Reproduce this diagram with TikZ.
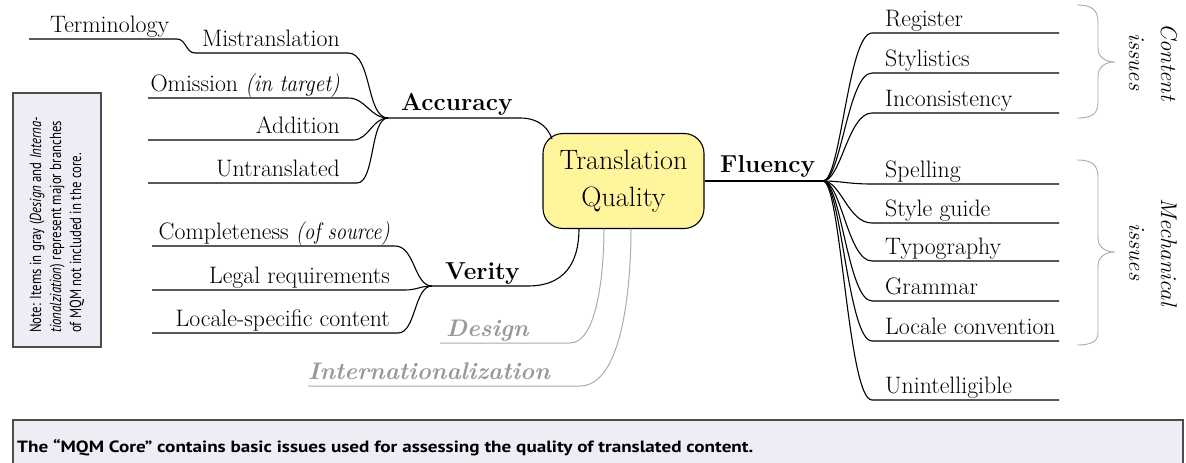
\documentclass[tikz,border=0pt]{standalone}
\usepackage{fontspec}
\usepackage{graphicx}
\newfontfamily\condfont[FakeStretch=0.8]{PT Sans}
\definecolor{tqfill}{HTML}{FFF59D}
\definecolor{notefill}{HTML}{EDEDF5}
\definecolor{greytext}{HTML}{9A9A9A}
\definecolor{greyline}{HTML}{ABABAB}
\begin{document}
\begin{tikzpicture}[x=1pt,y=-1pt,
  branch/.style={line width=1.1pt, draw=black},
  greybranch/.style={line width=1pt, draw=greyline},
  item/.style={inner sep=0pt, font=\fontsize{23.8}{27}\selectfont},
  itemL/.style={item, anchor=base west},
  itemR/.style={item, anchor=base east},
  major/.style={inner sep=0pt, anchor=base west, font=\fontsize{24.5}{28}\selectfont\bfseries},
  minor/.style={inner sep=0pt, anchor=base west, text=greytext, font=\fontsize{24}{28}\selectfont\bfseries\itshape},
  corebox/.style={draw=black, line width=1.1pt, fill=tqfill, rounded corners=20pt, minimum width=161pt, minimum height=95pt, align=center, inner sep=0pt, font=\fontsize{28}{37}\selectfont},
  bracestyle/.style={draw=greyline, line width=0.9pt},
  group/.style={rotate=-90, align=center, inner sep=0pt, font=\fontsize{22.7}{32}\selectfont\itshape},
  notebox/.style={fill=notefill, draw=black!70, line width=1.1pt},
]
\useasboundingbox (0,0) rectangle (1186,463);

% core
\node[corebox] (tq) at (623.5,181) {Translation\\Quality};

% ---------- Accuracy ----------
\coordinate (jA) at (388,118);
\coordinate (terS) at (29,39);   \coordinate (terE) at (177,39);
\coordinate (misS) at (195,53);  \coordinate (misE) at (348,53);
\coordinate (omS) at (148,98);   \coordinate (omE) at (348,98);
\coordinate (addS) at (148,140); \coordinate (addE) at (353,140);
\coordinate (untS) at (148,183); \coordinate (untE) at (357,183);
\coordinate (accE) at (520,118); \coordinate (accB) at (552,139);

\draw[branch] (terS) -- (terE) .. controls +(9,0) and +(-9,0) .. (misS) -- (misE) .. controls +(24,0) and +(-22,0) .. (jA);
\draw[branch] (omS) -- (omE) .. controls +(18,0) and +(-18,0) .. (jA);
\draw[branch] (addS) -- (addE) .. controls +(16,0) and +(-16,0) .. (jA);
\draw[branch] (untS) -- (untE) .. controls +(18,0) and +(-18,0) .. (jA);
\draw[branch] (jA) -- (accE) .. controls +(18,0) and +(-4,-12) .. (accB);

\node[itemL] (ter) at (50,32) {Terminology};
\node[itemL] (mis) at (202,46) {Mistranslation};
\node[itemR] (om) at (340,91) {Omission \scalebox{0.9}[1]{\textit{(in target)}}};
\node[itemR] (add) at (340,133) {Addition};
\node[itemR] (unt) at (340,176) {Untranslated};
\node[major] (acc) at (401,110) {Accuracy};

% ---------- Verity ----------
\coordinate (jV) at (432,286);
\coordinate (comS) at (152,246); \coordinate (comE) at (395,246);
\coordinate (legS) at (152,290); \coordinate (legE) at (405,290);
\coordinate (locS) at (152,333); \coordinate (locE) at (398,333);
\coordinate (verE) at (528,286); \coordinate (verB) at (579,228.5);

\draw[branch] (comS) -- (comE) .. controls +(20,0) and +(-18,0) .. (jV);
\draw[branch] (legS) -- (legE) .. controls +(12,0) and +(-12,0) .. (jV);
\draw[branch] (locS) -- (locE) .. controls +(18,0) and +(-18,0) .. (jV);
\draw[branch] (jV) -- (verE) .. controls +(44,0) and +(0,24) .. (verB);

\node[itemR] (com) at (390,239) {Completeness \scalebox{0.86}[1]{\textit{(of source)}}};
\node[itemR] (leg) at (390,283) {Legal requirements};
\node[itemR] (loc) at (390,326) {Locale-specific content};
\node[major] (ver) at (445,279) {Verity};

% ---------- grey branches ----------
\coordinate (desS) at (440,343); \coordinate (desE) at (570,343); \coordinate (desB) at (604,228.5);
\coordinate (intS) at (308,386); \coordinate (intE) at (580,386); \coordinate (intB) at (631,228.5);
\draw[greybranch] (desS) -- (desE) .. controls +(28,0) and +(0,40) .. (desB);
\draw[greybranch] (intS) -- (intE) .. controls +(42,0) and +(0,60) .. (intB);
\node[minor] (des) at (446,336) {Design};
\node[minor] (int) at (308,379) {Internationalization};

% ---------- Fluency ----------
\coordinate (jF) at (823,181);
\draw[branch] (tq.east) -- (jF);
\node[major] (flu) at (720,172) {Fluency};

\foreach \y/\n/\t in {33/reg/Register, 73/sty/Stylistics, 113/inc/Inconsistency,
  184/spe/Spelling, 223/sgu/Style guide, 261/typ/Typography, 301/gra/Grammar,
  341/lco/Locale convention, 400/uni/Unintelligible}{
  \coordinate (\n S) at (872,\y);
  \coordinate (\n E) at (1059,\y);
  \draw[branch] (jF) .. controls +(18,0) and +(-24,0) .. (\n S) -- (\n E);
  \node[itemL] (\n) at (885,\y-7) {\t};
}

% ---------- braces ----------
\draw[bracestyle] (1077,5) .. controls (1092,5) and (1098,10) .. (1098,22) -- (1098,48)
  .. controls (1098,57) and (1105,62) .. (1115,62)
  .. controls (1105,62) and (1098,67) .. (1098,76) -- (1098,102)
  .. controls (1098,114) and (1092,118) .. (1077,118);
\draw[bracestyle] (1077,160) .. controls (1092,160) and (1098,165) .. (1098,177) -- (1098,238)
  .. controls (1098,247) and (1105,252) .. (1115,252)
  .. controls (1105,252) and (1098,257) .. (1098,266) -- (1098,333)
  .. controls (1098,341) and (1092,345) .. (1077,345);
\node[group] (cont) at (1153,62) {Content\\issues};
\node[group] (mech) at (1153,252) {Mechanical\\issues};

% ---------- note box ----------
\draw[notebox] (13,93) rectangle (101,347);
\node[rotate=90, anchor=west, align=left, inner sep=0pt, font=\condfont\fontsize{16}{20}\selectfont] (note) at (57,333)
  {Note: Items in gray (\textit{Design} and \textit{Interna-}\\\textit{tionalziation}) represent major branches\\of MQM not included in the core.};

% ---------- footer ----------
\fill[notefill] (13,420) rectangle (1183,463);
\draw[draw=black!70, line width=1.1pt] (13,463) -- (13,420) -- (1183,420) -- (1183,463);
\node[anchor=base west, inner sep=0pt] (foot) at (17,452)
  {\resizebox{736pt}{13pt}{\condfont\bfseries The “MQM Core” contains basic issues used for assessing the quality of translated content.}};
\end{tikzpicture}
\end{document}
